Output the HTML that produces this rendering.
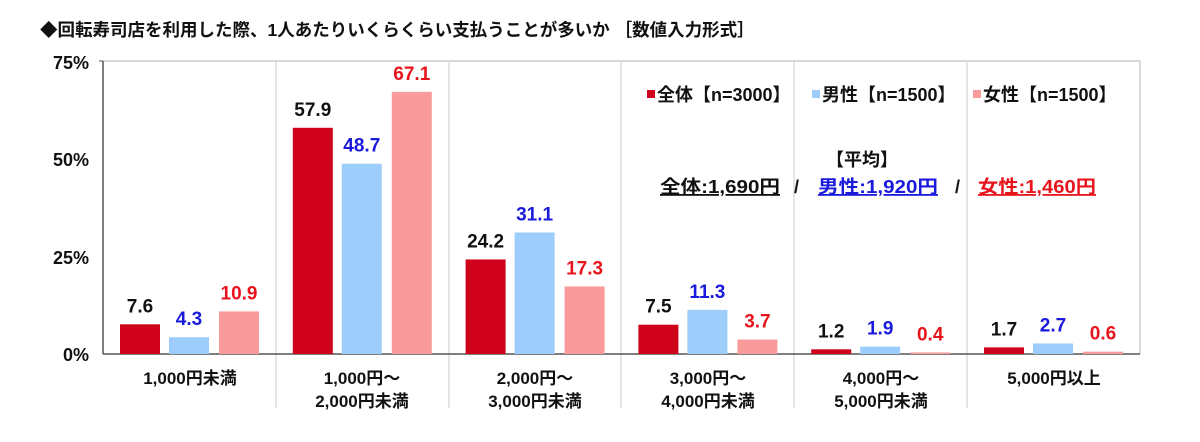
<!DOCTYPE html>
<html><head><meta charset="utf-8"><style>
body{margin:0;background:#fff}
text{font-family:"Liberation Sans","Noto Sans CJK JP",sans-serif;font-weight:bold}
</style></head><body>
<svg width="1200" height="437" xmlns="http://www.w3.org/2000/svg">
<text x="40" y="36" font-size="17.5" fill="#111">◆回転寿司店を利用した際、1人あたりいくらくらい支払うことが多いか ［数値入力形式］</text>
<g font-size="18" fill="#111" text-anchor="end">
<text x="89" y="69">75%</text><text x="89" y="166">50%</text><text x="89" y="264">25%</text><text x="89" y="361">0%</text>
</g>
<line x1="103" y1="61" x2="1140" y2="61" stroke="#ccc" stroke-width="1.5"/>
<line x1="1140" y1="61" x2="1140" y2="354" stroke="#ccc" stroke-width="1.5"/>
<g stroke="#ddd" stroke-width="1.5">
<line x1="276" y1="61" x2="276" y2="408"/><line x1="449" y1="61" x2="449" y2="408"/><line x1="621" y1="61" x2="621" y2="408"/><line x1="794" y1="61" x2="794" y2="408"/><line x1="967" y1="61" x2="967" y2="408"/>
</g>
<line x1="103" y1="61" x2="103" y2="354" stroke="#555" stroke-width="1.5"/>
<line x1="99" y1="61" x2="103" y2="61" stroke="#555"/>
<line x1="103" y1="354" x2="1140" y2="354" stroke="#555" stroke-width="1.5"/>
<g id="bars"></g>
<g font-size="17" text-anchor="middle" fill="#111">
<text x="190" y="384">1,000円未満</text>
<text x="362" y="384">1,000円～</text><text x="362" y="407">2,000円未満</text>
<text x="535" y="384">2,000円～</text><text x="535" y="407">3,000円未満</text>
<text x="708" y="384">3,000円～</text><text x="708" y="407">4,000円未満</text>
<text x="881" y="384">4,000円～</text><text x="881" y="407">5,000円未満</text>
<text x="1054" y="384">5,000円以上</text>
</g>
<g font-size="18">
<rect x="647" y="90" width="8" height="8" fill="#d0021b"/><text x="657" y="101" fill="#111">全体【n=3000】</text>
<rect x="812" y="90" width="8" height="8" fill="#9dcdfb"/><text x="822" y="101" fill="#111">男性【n=1500】</text>
<rect x="973" y="90" width="8" height="8" fill="#f99b9b"/><text x="983" y="101" fill="#111">女性【n=1500】</text>
<text x="862" y="166" text-anchor="middle" fill="#111">【平均】</text>
<text x="660" y="193" fill="#111" text-decoration="underline" textLength="120" lengthAdjust="spacingAndGlyphs">全体:1,690円</text>
<text x="794" y="193" fill="#111">/</text>
<text x="818" y="193" fill="#1a1adc" text-decoration="underline" textLength="120" lengthAdjust="spacingAndGlyphs">男性:1,920円</text>
<text x="955" y="193" fill="#111">/</text>
<text x="978" y="193" fill="#e8141c" text-decoration="underline" textLength="118" lengthAdjust="spacingAndGlyphs">女性:1,460円</text>
</g>
<g id="lbl" font-size="19" text-anchor="middle"></g>
<script>
var d=[[7.6,4.3,10.9],[57.9,48.7,67.1],[24.2,31.1,17.3],[7.5,11.3,3.7],[1.2,1.9,0.4],[1.7,2.7,0.6]];
var c=["#d0021b","#9dcdfb","#f99b9b"],tc=["#111","#1a1adc","#e8141c"],off=[17,66,116];
var b=document.getElementById("bars"),l=document.getElementById("lbl"),ns="http://www.w3.org/2000/svg";
d.forEach(function(r,i){r.forEach(function(v,j){var x=103+172.8*i+off[j],h=v*3.907,y=354-h;
var e=document.createElementNS(ns,"rect");e.setAttribute("x",x);e.setAttribute("y",y);e.setAttribute("width",40);e.setAttribute("height",h);e.setAttribute("fill",c[j]);b.appendChild(e);
var t=document.createElementNS(ns,"text");t.setAttribute("x",x+20);t.setAttribute("y",y-12);t.setAttribute("fill",tc[j]);t.textContent=v.toFixed(1);l.appendChild(t);});});
</script>
</svg>
</body></html>
